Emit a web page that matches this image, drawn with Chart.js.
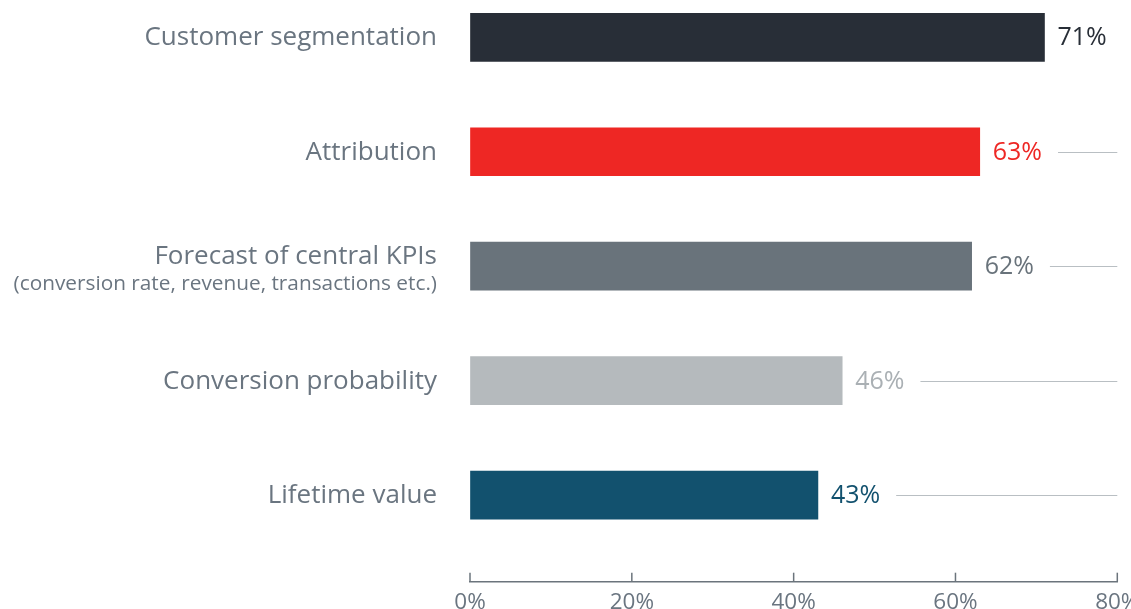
<!DOCTYPE html>
<html>
<head>
<meta charset="utf-8">
<script src="https://cdn.jsdelivr.net/npm/chart.js@4.4.1/dist/chart.umd.min.js"></script>
<style>
    html, body { margin: 0; padding: 0; background: #fff; overflow: hidden; }
    #wrap { position: relative; width: 1131px; height: 609px; }
</style>
</head>
<body>
<div id="wrap"><canvas id="usageChart"></canvas></div>
<script>
// Data
const categories = ['Customer segmentation', 'Attribution', 'Forecast of central KPIs', 'Conversion probability', 'Lifetime value'];
const subLabels = ['', '', '(conversion rate, revenue, transactions etc.)', '', ''];
const values = [71, 63, 62, 46, 43];
const xTicks = [0, 20, 40, 60, 80];

// Colours
const barColors = ['#282e37', '#ee2724', '#69737b', '#b5babd', '#12516e'];
const valueColors = ['#282e37', '#ee2724', '#69737b', '#aab0b4', '#12516e'];
const textGray = '#6a7580';
const axisGray = '#6b747c';
const leaderGray = '#b9bfc3';
const FONT = '"Open Sans", "DejaVu Sans", sans-serif';

// Draws category labels, value labels, leader lines and upward axis ticks
const annotations = {
    id: 'annotations',
    afterDatasetsDraw(chart) {
        const { ctx, scales: { x, y } } = chart;
        const meta = chart.getDatasetMeta(0);
        const right = x.getPixelForValue(xTicks[xTicks.length - 1]);

        ctx.save();
        categories.forEach((label, i) => {
            const cy = y.getPixelForValue(i);
            ctx.textAlign = 'right';
            ctx.textBaseline = 'alphabetic';
            ctx.fillStyle = textGray;
            if (subLabels[i]) {
                ctx.font = '26px ' + FONT;
                ctx.fillText(label, 437, cy - 2);
                ctx.font = '20.8px ' + FONT;
                ctx.fillText(subLabels[i], 437, cy + 24);
            } else {
                ctx.font = '26px ' + FONT;
                ctx.fillText(label, 437, cy + 8);
            }

            // value label
            const bar = meta.data[i];
            const text = values[i] + '%';
            ctx.font = '25px ' + FONT;
            ctx.textAlign = 'left';
            ctx.fillStyle = valueColors[i];
            const tx = bar.x + 13;
            ctx.fillText(text, tx, bar.y + 8);

            // leader line
            const lx = tx + ctx.measureText(text).width + 16;
            if (lx < right - 10) {
                ctx.beginPath();
                ctx.strokeStyle = leaderGray;
                ctx.lineWidth = 1.2;
                ctx.moveTo(lx, Math.round(bar.y) + 0.5);
                ctx.lineTo(right, Math.round(bar.y) + 0.5);
                ctx.stroke();
            }
        });

        // tick marks pointing up from the axis
        ctx.strokeStyle = axisGray;
        ctx.lineWidth = 1.5;
        xTicks.forEach(v => {
            const px = x.getPixelForValue(v);
            ctx.beginPath();
            ctx.moveTo(px, x.top);
            ctx.lineTo(px, x.top - 9);
            ctx.stroke();
        });
        ctx.restore();
    }
};

function initializeChart() {
    const ctx = document.getElementById('usageChart').getContext('2d');
    new Chart(ctx, {
        type: 'bar',
        data: {
            datasets: [{
                data: values.map((v, i) => ({ x: v, y: i })),
                backgroundColor: barColors,
                barThickness: 48,
                borderWidth: 0
            }]
        },
        options: {
            indexAxis: 'y',
            responsive: true,
            maintainAspectRatio: false,
            animation: false,
            layout: {
                padding: { left: 470, right: 13.7, top: 0, bottom: 0 }
            },
            plugins: {
                legend: { display: false },
                tooltip: { enabled: false }
            },
            scales: {
                x: {
                    type: 'linear',
                    position: 'bottom',
                    min: 0,
                    max: 80,
                    afterBuildTicks: scale => {
                        scale.ticks = xTicks.map(v => ({ value: v }));
                    },
                    afterFit: scale => {
                        scale.height = 27.3;
                        scale.paddingLeft = 0;
                        scale.paddingRight = 0;
                    },
                    grid: { display: true, drawOnChartArea: false, drawTicks: false },
                    border: { display: true, color: axisGray, width: 1.5 },
                    ticks: {
                        padding: 7,
                        color: textGray,
                        font: { family: FONT, size: 22.5 },
                        callback: value => `${value}%`
                    }
                },
                y: {
                    type: 'linear',
                    display: false,
                    reverse: true,
                    offset: false,
                    grid: { offset: false },
                    bounds: 'data',
                    min: -0.326,
                    max: 4.757
                }
            }
        },
        plugins: [annotations]
    });
}

document.addEventListener('DOMContentLoaded', initializeChart);
</script>
</body>
</html>
